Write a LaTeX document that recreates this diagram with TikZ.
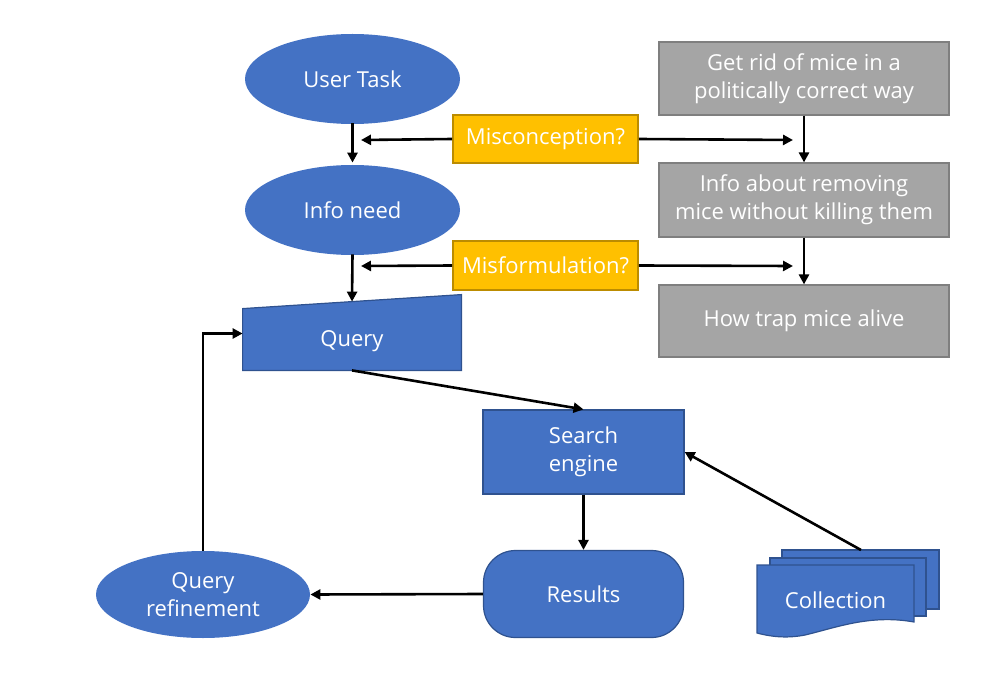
\documentclass[tikz,border=0pt]{standalone}
\usepackage{fontspec}
\setmainfont{Open Sans}
\usepackage{tikz}
\usetikzlibrary{positioning,calc,shapes.geometric,arrows.meta}

\definecolor{blu}{HTML}{4472C4}
\definecolor{bluline}{HTML}{2F528F}
\definecolor{yel}{HTML}{FFC000}
\definecolor{yelline}{HTML}{BC8C00}
\definecolor{gry}{HTML}{A5A5A5}
\definecolor{gryline}{HTML}{7F7F7F}

\begin{document}
\begin{tikzpicture}[x=0.5pt,y=-0.5pt,
    font=\fontsize{11}{14}\selectfont,
    oval/.style={ellipse,fill=blu,text=white,minimum width=107.5pt,minimum height=45pt,align=center,inner sep=0pt},
    bluebox/.style={rectangle,draw=bluline,fill=blu,text=white,line width=0.6pt,align=center},
    yelbox/.style={rectangle,draw=yelline,fill=yel,text=white,line width=0.8pt,minimum width=92.5pt,minimum height=24pt},
    grybox/.style={rectangle,draw=gryline,fill=gry,text=white,line width=0.6pt,minimum width=145pt,align=center},
    arr/.style={-{Triangle[length=5pt,width=5pt]},line width=1.3pt}]
    \useasboundingbox (0,0) rectangle (995,679);

    % left column
    \node[oval] (task) at (352.5,79) {User Task};
    \node[oval] (need) at (352.5,210) {Info need};
    \node[minimum width=109pt,minimum height=30.5pt,inner sep=0pt] (query) at (352,339.5) {};
    \filldraw[draw=bluline,fill=blu,line width=0.6pt] (query.south west) -- (query.south east) -- ([yshift=7pt]query.north east) -- (query.north west) -- cycle;
    \node[text=white] at ([yshift=-1pt]query) {Query};

    % questions
    \node[yelbox] (misc) at (545.5,139) {Misconception?};
    \node[yelbox,minimum height=24.5pt] (misf) at (545.5,265.5) {Misformulation?};

    % example on the right
    \node[grybox,minimum height=36.5pt] (rid) at (804,78.5) {Get rid of mice in a\\politically correct way};
    \node[grybox,minimum height=37pt] (about) at (804,200) {Info about removing\\mice without killing them};
    \node[grybox,minimum height=36pt] (trap) at (804,321) {How trap mice alive};

    % search loop
    \node[bluebox,minimum width=100.5pt,minimum height=42pt] (engine) at (583.5,452) {Search\\engine};
    \node[bluebox,minimum width=100pt,minimum height=43.5pt,rounded corners=16pt] (results) at (583.5,594) {Results};
    \node[oval,minimum width=107pt,minimum height=43.5pt] (refine) at (203,594.5) {Query\\refinement};

    % collection (stacked documents)
    \filldraw[draw=bluline,fill=blu,line width=0.6pt] (782,550) rectangle (939,609);
    \filldraw[draw=bluline,fill=blu,line width=0.6pt] (770,558) rectangle (926,616);
    \filldraw[draw=bluline,fill=blu,line width=0.6pt] (757,565) -- (914,565) -- (914,622)
        .. controls (870,614) and (835,628) .. (805,635) .. controls (785,639) and (768,636) .. (757,633) -- cycle;
    \node[text=white] (coll) at (835.5,600) {Collection};
    \coordinate (colltop) at (861,550);

    % free ends of the question arrows
    \coordinate (mcl) at (361,140);
    \coordinate (mcr) at (793,140);
    \coordinate (mfl) at (361,266);
    \coordinate (mfr) at (793,266);

    \draw[arr] (task.south) ++(0,-1) -- ([yshift=1pt]need.north);
    \draw[arr] (need.south) ++(0,-1) -- ([yshift=3.5pt]query.north);
    \draw[arr] (misc.west) -- (mcl);
    \draw[arr] (misc.east) -- (mcr);
    \draw[arr] (misf.west) -- (mfl);
    \draw[arr] (misf.east) -- (mfr);
    \draw[arr] (rid.south) -- (about.north);
    \draw[arr] (about.south) -- (trap.north);
    \draw[arr] (query.south) -- (engine.north);
    \draw[arr] (engine.south) -- (results.north);
    \draw[arr] (colltop) -- (engine.east);
    \draw[arr] (results.west) -- (refine.east);
    \draw[arr] (refine.north) |- ([yshift=3pt]query.west);
\end{tikzpicture}
\end{document}
